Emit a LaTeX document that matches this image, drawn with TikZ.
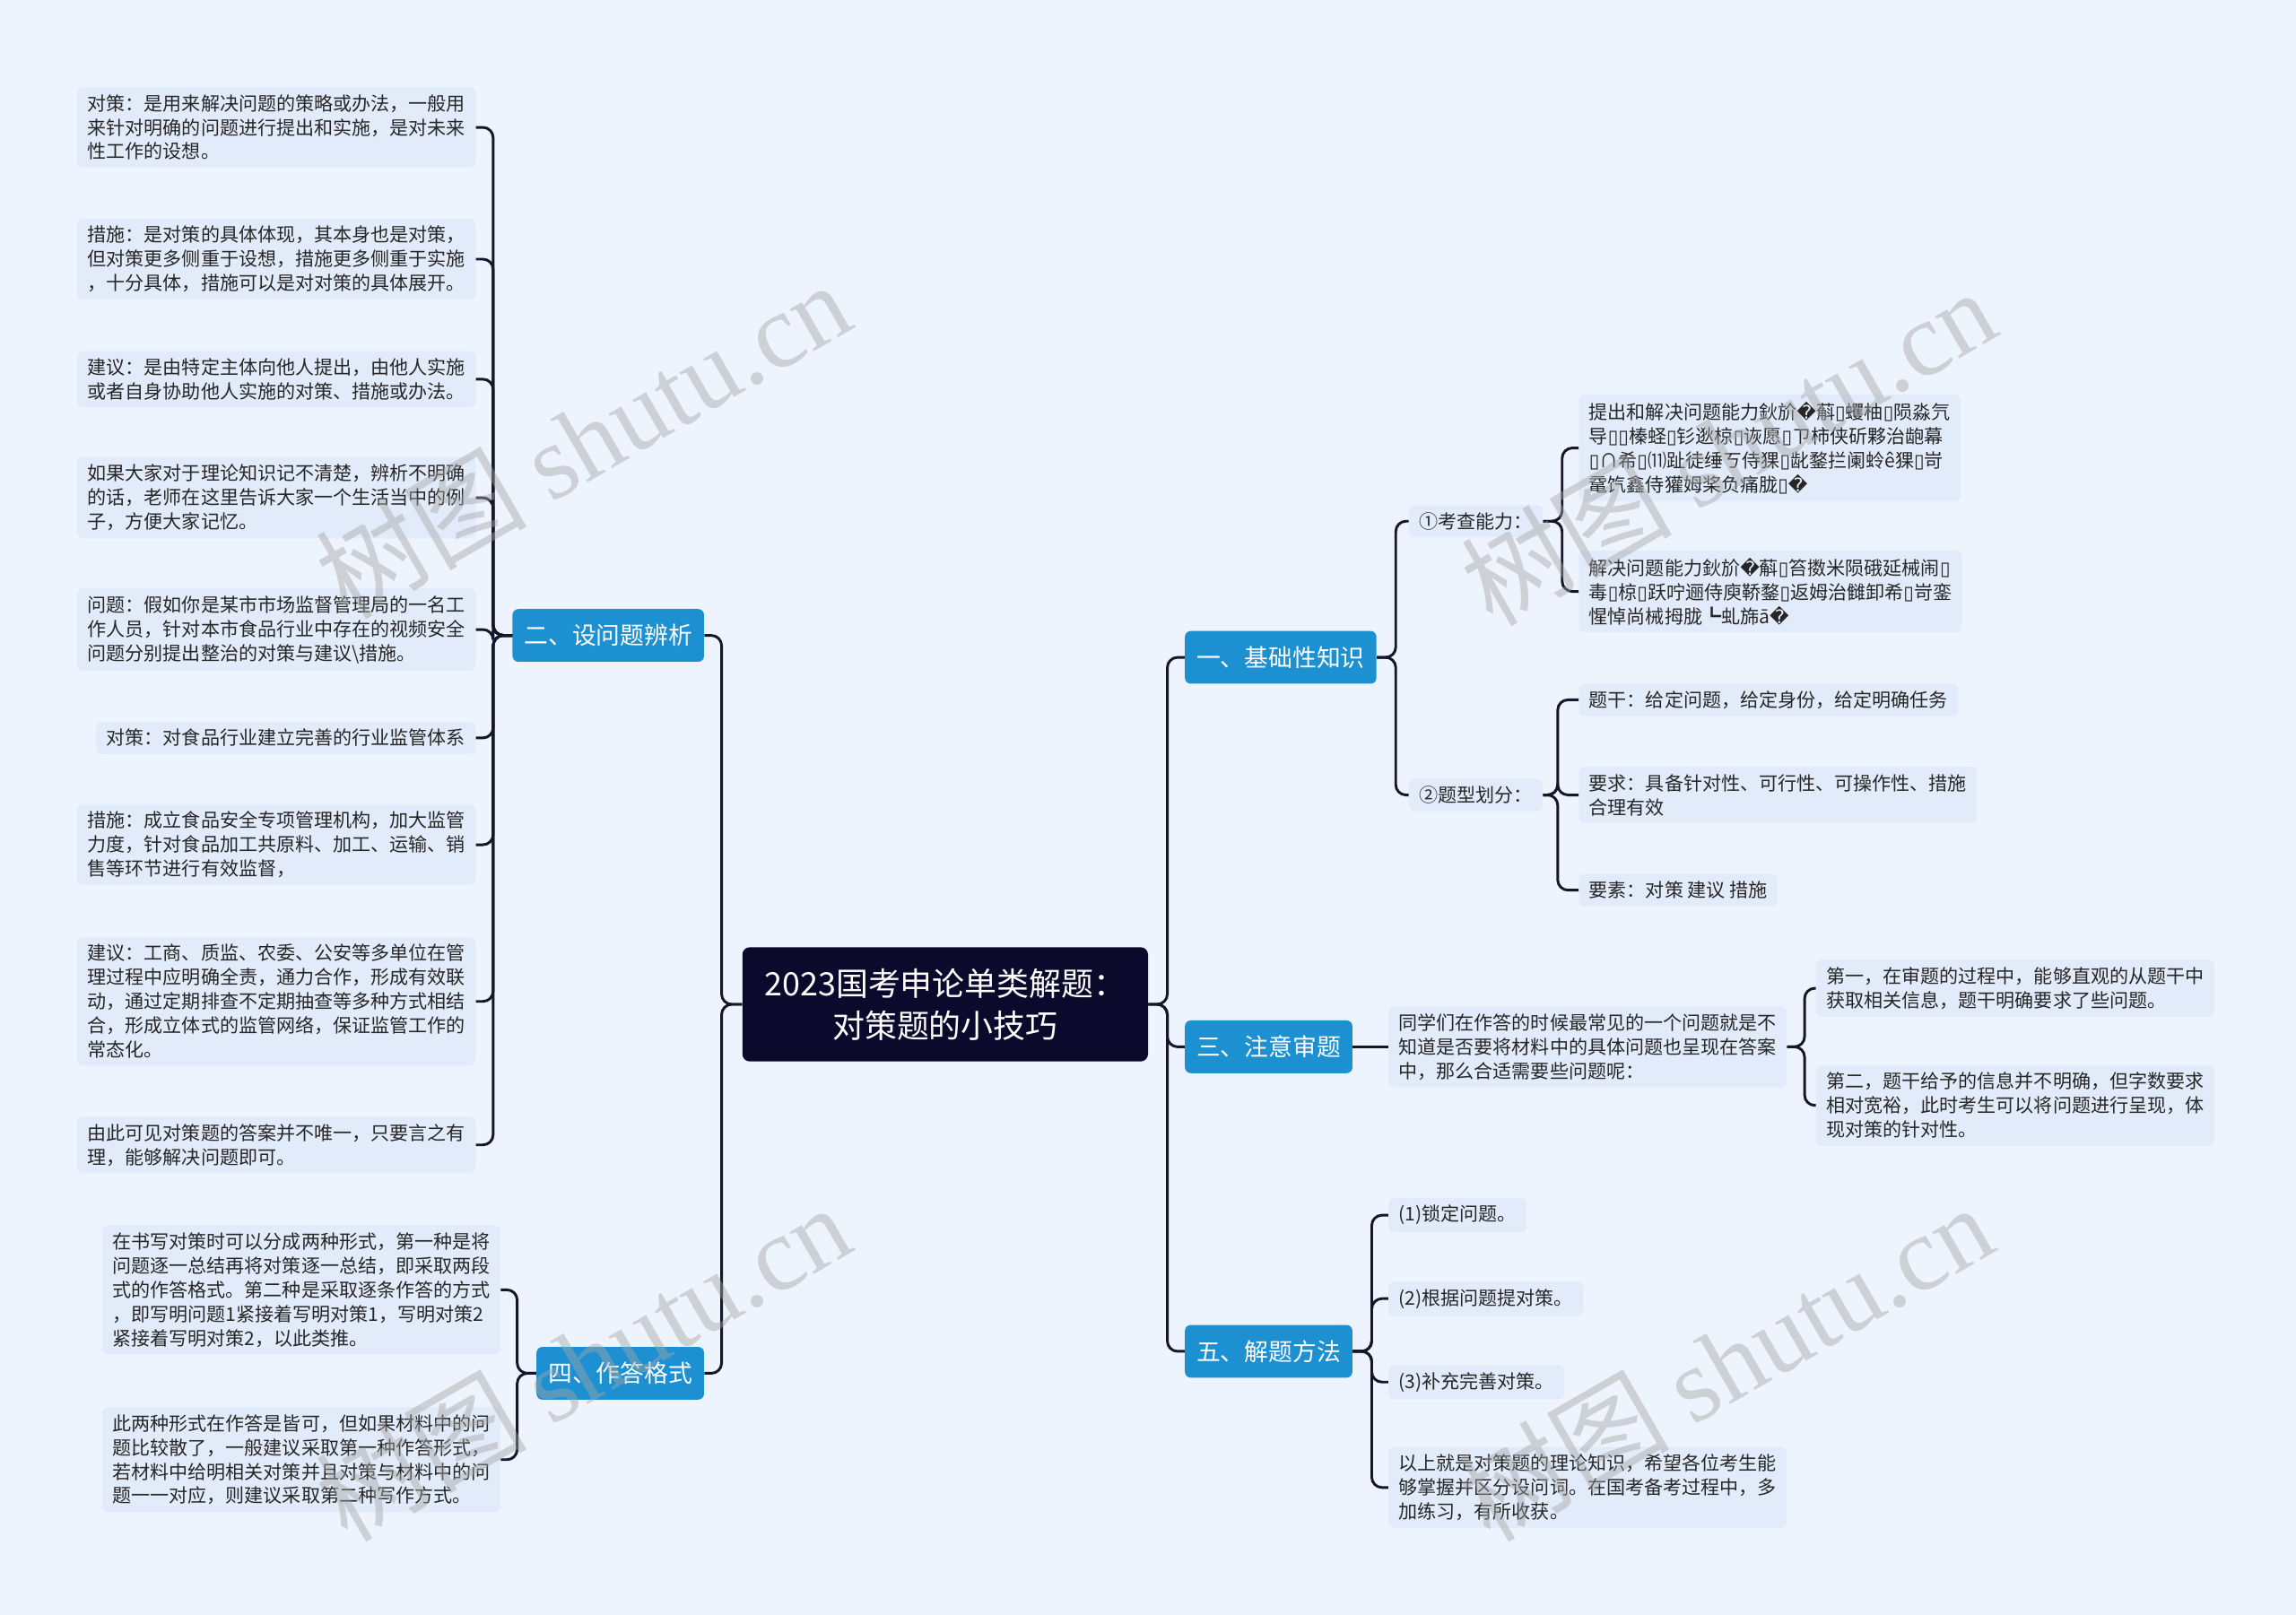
\documentclass[tikz,border=0pt]{standalone}
\usepackage{fontspec}
\setmainfont{Noto Sans CJK SC}
\newfontfamily\symfont{DejaVu Sans}
\newfontfamily\markfont{Liberation Serif}
\usetikzlibrary{positioning}
\definecolor{bgcol}{HTML}{EEF4FD}
\definecolor{leafcol}{HTML}{E2EBFA}
\definecolor{rootcol}{HTML}{0B0A2C}
\definecolor{topiccol}{HTML}{1D90D2}
\definecolor{linecol}{HTML}{16162A}
\newcommand{\rpl}{{\symfont\char"FFFD}}
\newcommand{\tofu}{{\symfont\char"25AF}}

\begin{document}
\begin{tikzpicture}[x=1pt,y=-1pt,
  leaf/.style={fill=leafcol, rounded corners=4pt, inner xsep=7pt, inner ysep=5pt,
    align=left, text=black!85, font=\fontsize{12.9}{16.5}\selectfont},
  topic/.style={fill=topiccol, rounded corners=4pt, text=white, inner xsep=8pt,
    minimum height=36pt, font=\fontsize{16.4}{20}\selectfont},
  rootbox/.style={fill=rootcol, rounded corners=5pt, text=white, align=center,
    minimum width=277pt, minimum height=78pt, font=\fontsize{22}{29}\selectfont},
  link/.style={draw=linecol, line width=1.8pt, rounded corners=7pt},
  wmark/.style={text=gray!70, opacity=0.45, rotate=30, font=\fontsize{72}{72}\selectfont}]

% Canvas
\fill[bgcol] (0,0) rectangle (1568,1103);
\useasboundingbox (0,0) rectangle (1568,1103);

% Root and main topics
\node[rootbox] (root) at (645.5,686) {2023国考申论单类解题：\\对策题的小技巧};
\node[topic, anchor=west] (basic) at (809,449) {一、基础性知识};
\node[topic, anchor=west] (review) at (809,715) {三、注意审题};
\node[topic, anchor=west] (method) at (809,923) {五、解题方法};
\node[topic, anchor=east] (askq) at (481,434) {二、设问题辨析};
\node[topic, anchor=east] (format) at (481,938) {四、作答格式};

% 一、基础性知识
\node[leaf, anchor=west] (ability) at (962,356) {①考查能力：};
\node[leaf, anchor=west] (qtype) at (962,543) {②题型划分：};
\node[leaf, anchor=west] (ab1) at (1078,306) {提出和解决问题能力鈥斺\rpl 蔛\tofu 蠼柚\tofu 陨淼氕\\导\tofu\tofu 榛蛏\tofu 钐逖椋\tofu 诙愿\tofu ㄗ柿侠斫夥治龅幕\\\tofu ∩希\tofu ⑾趾徒缍ㄎ侍猓\tofu 龀鍪拦阑蛉ê猓\tofu 岢\\鼋饩鑫侍獾姆桨负痛胧\tofu\rpl};
\node[leaf, anchor=west] (ab2) at (1078,404) {解决问题能力鈥斺\rpl 蔛\tofu 笞擞米陨硪延械闹\tofu\\毒\tofu 椋\tofu 跃咛逦侍庾鞒鍪\tofu 返姆治雠卸希\tofu 岢銮\\惺悼尚械拇胧┗虬旆ā\rpl};
\node[leaf, anchor=west] (qt1) at (1078,478) {题干：给定问题，给定身份，给定明确任务};
\node[leaf, anchor=west] (qt2) at (1078,543) {要求：具备针对性、可行性、可操作性、措施\\合理有效};
\node[leaf, anchor=west] (qt3) at (1078,608) {要素：对策 建议 措施};

% 三、注意审题
\node[leaf, anchor=west] (rv0) at (948,715) {同学们在作答的时候最常见的一个问题就是不\\知道是否要将材料中的具体问题也呈现在答案\\中，那么合适需要些问题呢：};
\node[leaf, anchor=west] (rv1) at (1240,675) {第一，在审题的过程中，能够直观的从题干中\\获取相关信息，题干明确要求了些问题。};
\node[leaf, anchor=west] (rv2) at (1240,755) {第二，题干给予的信息并不明确，但字数要求\\相对宽裕，此时考生可以将问题进行呈现，体\\现对策的针对性。};

% 五、解题方法
\node[leaf, anchor=west] (md1) at (948,830) {(1)锁定问题。};
\node[leaf, anchor=west] (md2) at (948,887) {(2)根据问题提对策。};
\node[leaf, anchor=west] (md3) at (948,944) {(3)补充完善对策。};
\node[leaf, anchor=west] (md4) at (948,1016) {以上就是对策题的理论知识，希望各位考生能\\够掌握并区分设问词。在国考备考过程中，多\\加练习，有所收获。};

% 二、设问题辨析
\node[leaf, anchor=east] (aq1) at (325,87) {对策：是用来解决问题的策略或办法，一般用\\来针对明确的问题进行提出和实施，是对未来\\性工作的设想。};
\node[leaf, anchor=east] (aq2) at (325,177) {措施：是对策的具体体现，其本身也是对策，\\但对策更多侧重于设想，措施更多侧重于实施\\，十分具体，措施可以是对对策的具体展开。};
\node[leaf, anchor=east] (aq3) at (325,259) {建议：是由特定主体向他人提出，由他人实施\\或者自身协助他人实施的对策、措施或办法。};
\node[leaf, anchor=east] (aq4) at (325,340) {如果大家对于理论知识记不清楚，辨析不明确\\的话，老师在这里告诉大家一个生活当中的例\\子，方便大家记忆。};
\node[leaf, anchor=east] (aq5) at (325,430) {问题：假如你是某市市场监督管理局的一名工\\作人员，针对本市食品行业中存在的视频安全\\问题分别提出整治的对策与建议\textbackslash 措施。};
\node[leaf, anchor=east] (aq6) at (325,504) {对策：对食品行业建立完善的行业监管体系};
\node[leaf, anchor=east] (aq7) at (325,577) {措施：成立食品安全专项管理机构，加大监管\\力度，针对食品加工共原料、加工、运输、销\\售等环节进行有效监督，};
\node[leaf, anchor=east] (aq8) at (325,684) {建议：工商、质监、农委、公安等多单位在管\\理过程中应明确全责，通力合作，形成有效联\\动，通过定期排查不定期抽查等多种方式相结\\合，形成立体式的监管网络，保证监管工作的\\常态化。};
\node[leaf, anchor=east] (aq9) at (325,782) {由此可见对策题的答案并不唯一，只要言之有\\理，能够解决问题即可。};

% 四、作答格式
\node[leaf, anchor=east] (fm1) at (342,881) {在书写对策时可以分成两种形式，第一种是将\\问题逐一总结再将对策逐一总结，即采取两段\\式的作答格式。第二种是采取逐条作答的方式\\，即写明问题1紧接着写明对策1，写明对策2\\紧接着写明对策2，以此类推。};
\node[leaf, anchor=east] (fm2) at (342,997) {此两种形式在作答是皆可，但如果材料中的问\\题比较散了，一般建议采取第一种作答形式，\\若材料中给明相关对策并且对策与材料中的问\\题一一对应，则建议采取第二种写作方式。};

% Links
\foreach \c in {basic,review,method}
  \draw[link] (root.east) -- ++(13,0) |- (\c.west);
\foreach \c in {askq,format}
  \draw[link] (root.west) -- ++(-14,0) |- (\c.east);
\foreach \c in {ability,qtype}
  \draw[link] (basic.east) -- ++(13,0) |- (\c.west);
\foreach \c in {ab1,ab2}
  \draw[link] (ability.east) -- ++(13,0) |- (\c.west);
\foreach \c in {qt1,qt2,qt3}
  \draw[link] (qtype.east) -- ++(10,0) |- (\c.west);
\draw[link] (review.east) -- (rv0.west);
\foreach \c in {rv1,rv2}
  \draw[link] (rv0.east) -- ++(12,0) |- (\c.west);
\foreach \c in {md1,md2,md3,md4}
  \draw[link] (method.east) -- ++(13,0) |- (\c.west);
\foreach \c in {aq1,aq2,aq3,aq4,aq5,aq6,aq7,aq8,aq9}
  \draw[link] (askq.west) -- ++(-13,0) |- (\c.east);
\foreach \c in {fm1,fm2}
  \draw[link] (format.west) -- ++(-13,0) |- (\c.east);

% Watermarks
\node[wmark] (wm1) at (398,300) {树图 {\markfont shutu.cn}};
\node[wmark] (wm2) at (1180,305) {树图 {\markfont shutu.cn}};
\node[wmark] (wm3) at (398,930) {树图 {\markfont shutu.cn}};
\node[wmark] (wm4) at (1178,930) {树图 {\markfont shutu.cn}};
\end{tikzpicture}
\end{document}
